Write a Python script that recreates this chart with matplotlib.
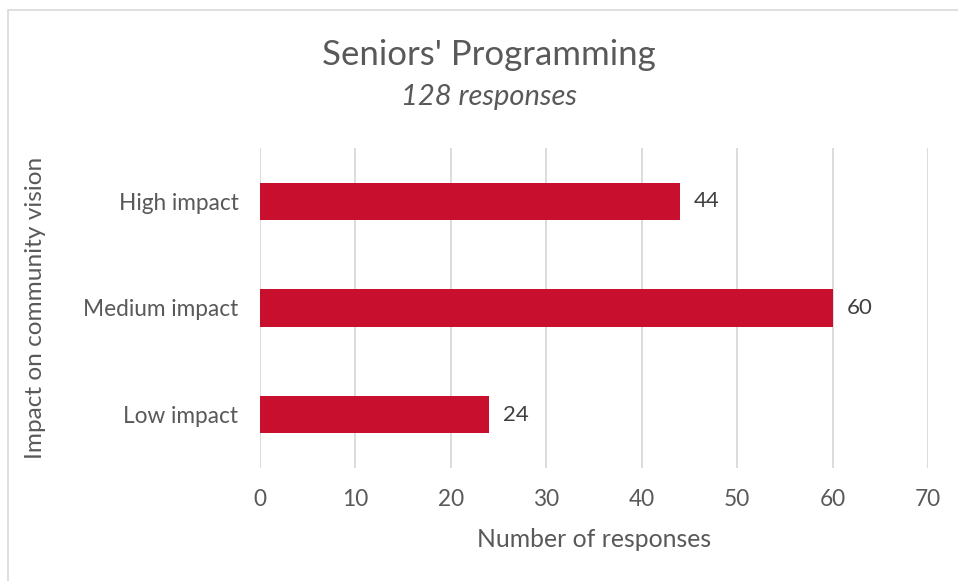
import matplotlib
matplotlib.use("Agg")
import matplotlib.pyplot as plt
from matplotlib.patches import Rectangle

categories = ["Low impact", "Medium impact", "High impact"]
values = [24, 60, 44]
xticks = [0, 10, 20, 30, 40, 50, 60, 70]
title = "Seniors' Programming"
subtitle = "128 responses"
xlabel = "Number of responses"
ylabel = "Impact on community vision"

plt.rcParams['font.family'] = ['Lato', 'DejaVu Sans']
TXT = '#595959'
W, H = 958, 581
fig = plt.figure(figsize=(W/100, H/100), dpi=100)

# chart border
fig.patches.append(Rectangle((8/W, -0.1), 1.2, (H-10)/H + 0.1, transform=fig.transFigure,
                             fill=False, edgecolor='#D9D9D9', linewidth=1.2))

ax = fig.add_axes([260/W, 1-468/H, (928-260)/W, (468-148)/H])
y = list(range(len(categories)))
ax.barh(y, values, height=0.35, color='#C8102E', zorder=3)
ax.set_xlim(0, 70)
ax.set_ylim(-0.5, 2.5)
ax.set_xticks(xticks)
ax.set_yticks(y)
ax.set_yticklabels(categories)
ax.grid(axis='x', color='#D9D9D9', linewidth=1.3, zorder=0)
for s in ax.spines.values():
    s.set_visible(False)
ax.tick_params(length=0, labelsize=16.3, colors=TXT)
ax.tick_params(axis='x', pad=15)
ax.tick_params(axis='y', pad=15.5)
for yi, v in zip(y, values):
    ax.text(v + 1.5, yi, str(v), va='center', ha='left', fontsize=16, color='#404040')
ax.set_xlabel(xlabel, fontsize=17.8, color=TXT, labelpad=13)
ax.set_ylabel(ylabel, fontsize=17.6, color=TXT, labelpad=27)

fig.text(489/W, 1-55/H, title, ha='center', va='center', fontsize=25, color=TXT)
fig.text(489/W, 1-97/H, subtitle, ha='center', va='center', fontsize=21, color=TXT, style='italic')

fig.savefig('out.png', dpi=100)
